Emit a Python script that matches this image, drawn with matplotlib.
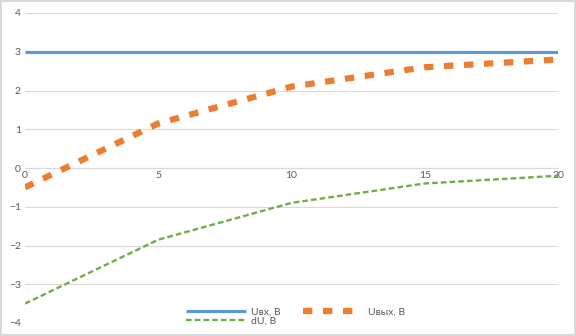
import matplotlib
matplotlib.use('Agg')
import matplotlib.pyplot as plt

# time points and voltages
t = [0, 5, 10, 15, 20]
u_in = [3, 3, 3, 3, 3]
u_out = [-0.5, 1.15, 2.1, 2.6, 2.8]
d_u = [-3.5, -1.85, -0.9, -0.4, -0.2]

x_ticks = [0, 5, 10, 15, 20]
y_ticks = [-4, -3, -2, -1, 0, 1, 2, 3, 4]

plt.rcParams['font.family'] = ['Lato', 'DejaVu Sans']
text_col = '#595959'
grid_col = '#D9D9D9'

fig = plt.figure(figsize=(5.76, 3.36), dpi=100, facecolor='white',
                 edgecolor=grid_col, linewidth=1.5)
ax = fig.add_axes([25 / 576, 13 / 336, 533 / 576, 310 / 336])

l_in, = ax.plot(t, u_in, color='#5B9BD5', lw=2.25, solid_capstyle='butt',
                label='Uвх, В', zorder=3)
l_out, = ax.plot(t, u_out, color='#ED7D31', lw=4.5, dashes=(1.5, 1.7),
                 dash_capstyle='butt', label='Uвых, В', zorder=3)
l_du, = ax.plot(t, d_u, color='#70AD47', lw=1.7, dashes=(2.4, 1.3),
                dash_capstyle='butt', label='dU, В', zorder=3)

ax.set_xlim(0, 20)
ax.set_ylim(-4, 4)
ax.set_xticks(x_ticks)
ax.set_yticks(y_ticks)

ax.grid(axis='y', color=grid_col, lw=0.8)
ax.set_axisbelow(True)
for side in ['top', 'right', 'left']:
    ax.spines[side].set_visible(False)
ax.spines['bottom'].set_position(('data', 0))
ax.spines['bottom'].set_color(grid_col)
ax.spines['bottom'].set_linewidth(0.8)

ax.tick_params(axis='both', length=0, labelsize=7.5, labelcolor=text_col)
ax.tick_params(axis='x', pad=2)
ax.tick_params(axis='y', pad=3)

fig.legend([l_in, l_du, l_out], ['Uвх, В', 'dU, В', 'Uвых, В'],
           ncol=2, loc='center', bbox_to_anchor=(0.513, 0.058),
           frameon=False, fontsize=7.5, labelcolor=text_col,
           handlelength=5.8, handletextpad=0.5, columnspacing=2.1,
           labelspacing=0.05, borderpad=0)

fig.savefig('out.png', dpi=100, facecolor=fig.get_facecolor(),
            edgecolor=fig.get_edgecolor())
